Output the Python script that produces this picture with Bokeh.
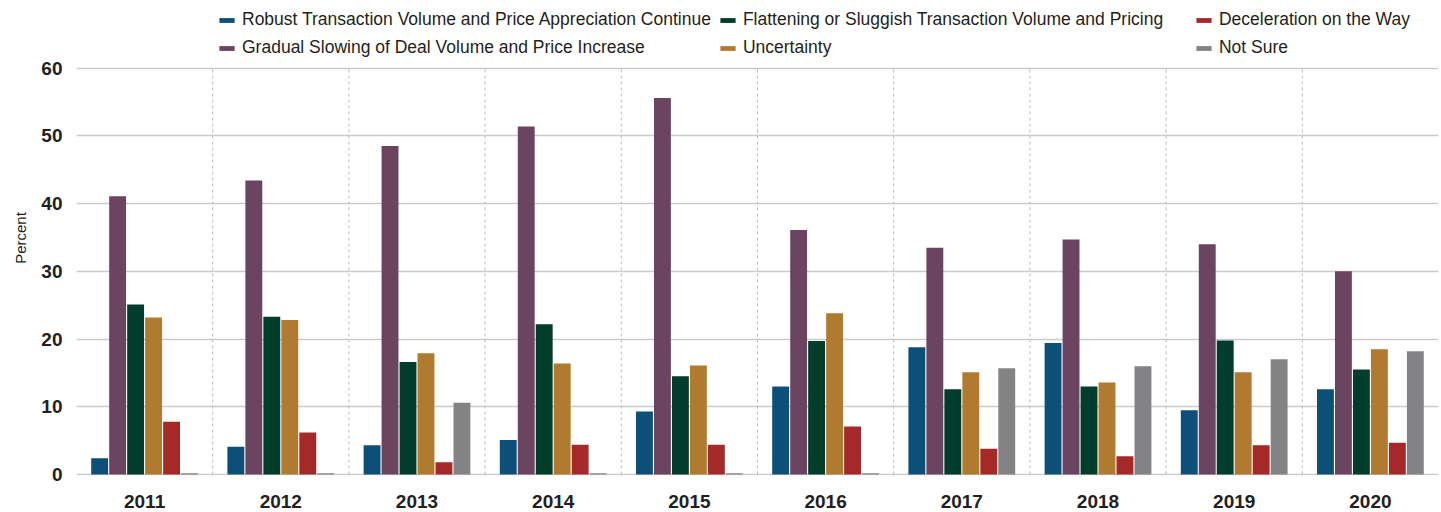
from bokeh.plotting import figure
from bokeh.models import (ColumnDataSource, FactorRange, Range1d, Legend,
                          LegendItem, FixedTicker)
from bokeh.transform import dodge
from bokeh.embed import file_html
from bokeh.resources import INLINE

years = ["2011", "2012", "2013", "2014", "2015", "2016", "2017", "2018", "2019", "2020"]

robust = [2.4, 4.1, 4.3, 5.1, 9.3, 13.0, 18.8, 19.4, 9.5, 12.6]
gradual = [41.1, 43.4, 48.5, 51.4, 55.6, 36.1, 33.5, 34.7, 34.0, 30.0]
flattening = [25.1, 23.3, 16.6, 22.2, 14.5, 19.7, 12.6, 13.0, 19.8, 15.5]
uncertainty = [23.2, 22.8, 17.9, 16.4, 16.1, 23.8, 15.1, 13.6, 15.1, 18.5]
deceleration = [7.8, 6.2, 1.8, 4.4, 4.4, 7.1, 3.8, 2.7, 4.3, 4.7]
not_sure = [0.2, 0.2, 10.6, 0.2, 0.2, 0.2, 15.7, 16.0, 17.0, 18.2]

y_ticks = [0, 10, 20, 30, 40, 50, 60]

series_names = [
    "Robust Transaction Volume and Price Appreciation Continue",
    "Gradual Slowing of Deal Volume and Price Increase",
    "Flattening or Sluggish Transaction Volume and Pricing",
    "Uncertainty",
    "Deceleration on the Way",
    "Not Sure",
]
series_keys = ["robust", "gradual", "flattening", "uncertainty", "deceleration", "not_sure"]
colors = ["#0c4f78", "#6b4460", "#003d2b", "#b07a2f", "#a6292a", "#838386"]

source = ColumnDataSource(dict(
    year=years, robust=robust, gradual=gradual, flattening=flattening,
    uncertainty=uncertainty, deceleration=deceleration, not_sure=not_sure,
))

FONT = "Liberation Sans"
DARK = "#231f20"

p = figure(width=1441, height=512, output_backend="svg", toolbar_location=None,
           x_range=FactorRange(factors=years, range_padding=0),
           y_range=Range1d(-0.15, 70.0),
           min_border_left=76, min_border_right=3, min_border_bottom=37, min_border_top=0)
p.outline_line_color = None
p.background_fill_color = "white"

# dashed separators between year groups (drawn under the bars)
n = len(years)
sep_x = list(range(1, n))
p.segment(x0=sep_x, y0=[y_ticks[0]] * (n - 1), x1=sep_x, y1=[y_ticks[-1]] * (n - 1),
          line_color="#bdbdbd", line_dash="3 3", line_width=1)

step = 0.132
bar_w = 0.124
renderers = []
for i, (k, c) in enumerate(zip(series_keys, colors)):
    off = (i - 2.5) * step
    r = p.vbar(x=dodge("year", off, range=p.x_range), top=k, bottom=0, width=bar_w,
               source=source, fill_color=c, line_color=None)
    renderers.append(r)

# grids
p.xgrid.grid_line_color = None
p.ygrid.grid_line_color = "#cbcbcb"
p.ygrid.grid_line_width = 1.5
p.yaxis.ticker = FixedTicker(ticks=y_ticks)
p.yaxis.bounds = (y_ticks[0], y_ticks[-1])

# axes
for ax in (p.xaxis, p.yaxis):
    ax.axis_line_color = None
    ax.major_tick_line_color = None
    ax.minor_tick_line_color = None
    ax.major_label_text_font = FONT
    ax.major_label_text_font_style = "bold"
    ax.major_label_text_font_size = "19px"
    ax.major_label_text_color = DARK
p.xaxis.major_label_standoff = 13
p.yaxis.major_label_standoff = 8
p.yaxis.axis_label = "Percent"
p.yaxis.axis_label_text_font = FONT
p.yaxis.axis_label_text_font_style = "normal"
p.yaxis.axis_label_text_font_size = "15px"
p.yaxis.axis_label_text_color = DARK
p.yaxis.axis_label_text_align = "right"
p.yaxis.axis_label_standoff = 9

# legend (row-major order)
order = [0, 2, 4, 1, 3, 5]
items = [LegendItem(label=series_names[j], renderers=[renderers[j]]) for j in order]
legend = Legend(items=items, orientation="horizontal", ncols=3,
                location=(141, 417), border_line_color=None, background_fill_alpha=0,
                label_text_font=FONT, label_text_font_size="17.5px",
                label_text_color=DARK, glyph_width=19, glyph_height=6,
                label_standoff=6, spacing=7, padding=0, margin=0, label_width=444)
p.add_layout(legend, "center")

open("out.html", "w").write(file_html(p, INLINE))
